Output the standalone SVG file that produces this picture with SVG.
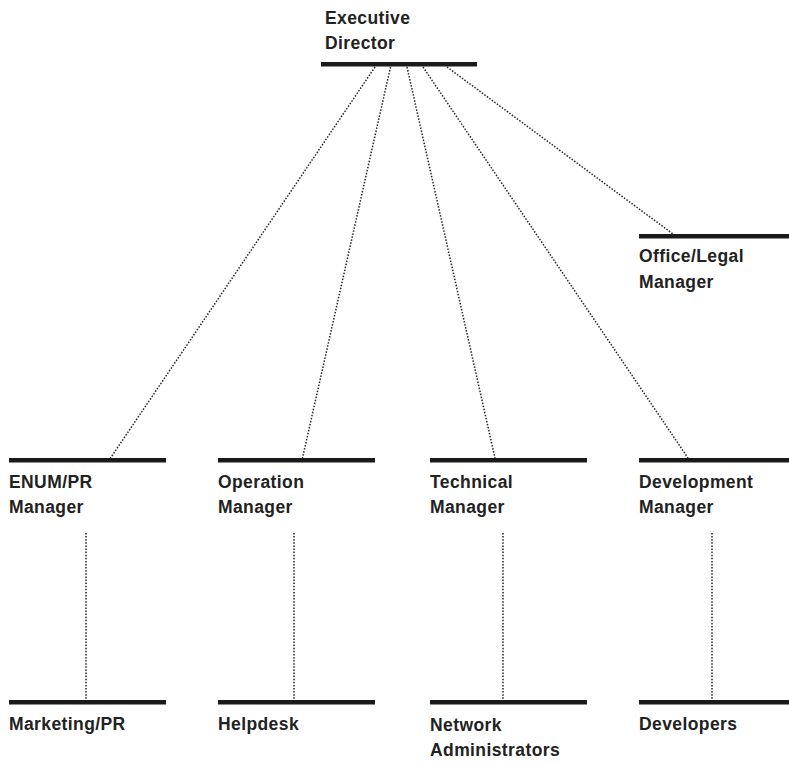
<svg xmlns="http://www.w3.org/2000/svg" width="789" height="762" viewBox="0 0 789 762">
<style>
.bar{fill:#1a1a1a}
.lbl{font-family:"Liberation Sans",Arial,sans-serif;font-weight:bold;font-size:17.5px;letter-spacing:0.4px;fill:#222}
.dot{stroke:#222;stroke-width:1.5;stroke-dasharray:1.5 1.6;fill:none}
</style>
<rect width="789" height="762" fill="#fff"/>
<g id="connectors">
<line class="dot" x1="375" y1="67" x2="110.5" y2="458"/>
<line class="dot" x1="390.5" y1="67" x2="302.5" y2="458"/>
<line class="dot" x1="407" y1="67" x2="495" y2="458"/>
<line class="dot" x1="423" y1="67" x2="688" y2="458"/>
<line class="dot" x1="447" y1="67" x2="673" y2="234"/>
<line class="dot" x1="86" y1="533" x2="86" y2="700"/>
<line class="dot" x1="294" y1="533" x2="294" y2="700"/>
<line class="dot" x1="503" y1="533" x2="503" y2="700"/>
<line class="dot" x1="712" y1="533" x2="712" y2="700"/>
</g>
<g id="executive-director">
<rect class="bar" x="321" y="62" width="156" height="4.5"/>
<text class="lbl" x="325" y="24">Executive</text>
<text class="lbl" x="325" y="49">Director</text>
</g>
<g id="office-legal-manager">
<rect class="bar" x="639" y="234" width="150" height="4.5"/>
<text class="lbl" x="639" y="262">Office/Legal</text>
<text class="lbl" x="639" y="288">Manager</text>
</g>
<g id="enum-pr-manager">
<rect class="bar" x="9" y="458" width="157" height="4.5"/>
<text class="lbl" x="9" y="488">ENUM/PR</text>
<text class="lbl" x="9" y="513">Manager</text>
</g>
<g id="operation-manager">
<rect class="bar" x="218" y="458" width="157" height="4.5"/>
<text class="lbl" x="218" y="488">Operation</text>
<text class="lbl" x="218" y="513">Manager</text>
</g>
<g id="technical-manager">
<rect class="bar" x="430" y="458" width="157" height="4.5"/>
<text class="lbl" x="430" y="488">Technical</text>
<text class="lbl" x="430" y="513">Manager</text>
</g>
<g id="development-manager">
<rect class="bar" x="639" y="458" width="150" height="4.5"/>
<text class="lbl" x="639" y="488">Development</text>
<text class="lbl" x="639" y="513">Manager</text>
</g>
<g id="marketing-pr">
<rect class="bar" x="9" y="700" width="157" height="4.5"/>
<text class="lbl" x="9" y="730">Marketing/PR</text>
</g>
<g id="helpdesk">
<rect class="bar" x="218" y="700" width="157" height="4.5"/>
<text class="lbl" x="218" y="730">Helpdesk</text>
</g>
<g id="network-administrators">
<rect class="bar" x="430" y="700" width="157" height="4.5"/>
<text class="lbl" x="430" y="731">Network</text>
<text class="lbl" x="430" y="756">Administrators</text>
</g>
<g id="developers">
<rect class="bar" x="639" y="700" width="150" height="4.5"/>
<text class="lbl" x="639" y="730">Developers</text>
</g>
</svg>
